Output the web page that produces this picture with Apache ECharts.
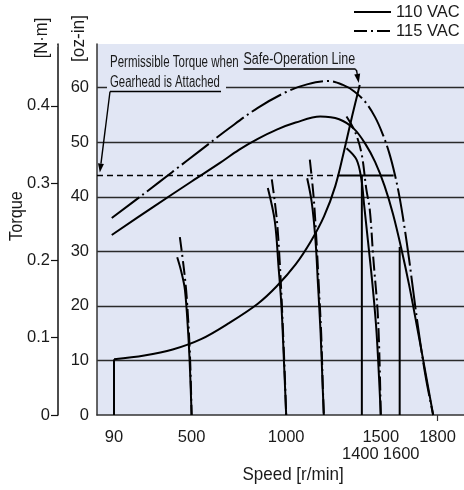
<!DOCTYPE html>
<html><head><meta charset="utf-8">
<script src="https://cdn.jsdelivr.net/npm/echarts@6/dist/echarts.min.js"></script>
<style>html,body{margin:0;padding:0;background:#fff}#c{width:464px;height:490px}</style>
</head><body><div id="c"></div>
<script>
// ---------- data ----------
const speedTicks = [90, 500, 1000, 1500, 1800];
const speedTicks2 = [1400, 1600];
const ozTicks = [0, 10, 20, 30, 40, 50, 60];
const nmTicks = [0, 0.1, 0.2, 0.3, 0.4];
const OZ_PER_NM = 141.612;

// maximum torque curves [speed r/min, torque oz-in]
const max110 = [[78,33.0],[300,38.2],[500,42.8],[650,46.2],[750,48.6],[850,50.6],[950,52.3],[1050,53.6],[1180,54.7],[1280,54.2],[1360,52.4],[1420,49.6],[1470,46.4],[1520,42.0],[1565,36.8],[1610,30.3],[1650,23.8],[1690,16.5],[1730,9.0],[1777,0]];
const max115 = [[78,36.1],[250,40.6],[400,44.6],[550,48.6],[700,52.6],[850,56.3],[1000,59.2],[1110,60.6],[1224,61.2],[1300,60.5],[1360,59.3],[1420,57.3],[1470,54.6],[1510,51.5],[1545,48.0],[1575,44.0],[1600,39.8],[1625,34.5],[1650,28.5],[1680,20.5],[1710,13.0],[1740,6.5],[1777,0]];

// speed-setting curves
const s500_110 = [[424,28.9],[446,26.2],[465,22.9],[482,15.0],[492,8.0],[500,0]];
const s500_115 = [[438,32.6],[460,26.6],[474,21.7],[491,11.3],[500,0]];
const s1000_110 = [[903,41.6],[940,35.5],[960,27.0],[975,20.0],[988,10.0],[1000,0]];
const s1000_115 = [[924,43.2],[950,36.0],[966,28.0],[980,18.0],[992,8.0],[1000,0]];
const s1200_110 = [[1111,43.4],[1135,39.0],[1155,32.0],[1168,24.0],[1182,15.0],[1192,6.0],[1199,0]];
const s1200_115 = [[1125,46.8],[1145,40.0],[1160,32.0],[1172,24.0],[1185,15.0],[1193,6.0],[1199,0]];
const s1500_110 = [[1319,48.9],[1372,46.8],[1398,43.1],[1412,38.5],[1432,32.0],[1456,24.0],[1478,15.0],[1500,0]];
const s1500_115 = [[1319,54.7],[1363,52.0],[1398,48.0],[1424,41.3],[1442,37.6],[1460,29.0],[1486,17.4],[1500,0]];

// safe-operation line
const safeOpBase = [[90,0],[90,10.2]];
const safeOp = [[90,10.2],[250,10.9],[400,12.0],[550,13.9],[700,16.9],[850,20.4],[950,23.6],[1050,27.6],[1130,31.8],[1200,36.4],[1260,42.0],[1310,49.0],[1350,55.0],[1389,60.5]];

// permissible torque when gearhead is attached
const gearTorque = 43.9;
const gearDashed = [[0,gearTorque],[1275,gearTorque]];
const gearSolid = [[1275,gearTorque],[1568,gearTorque]];
const limit1400 = [[1400,gearTorque],[1400,0]];
const limit1600 = [[1600,30.8],[1600,0]];

// ---------- chart ----------
const FONT = '"Liberation Sans", Arial, sans-serif';
const TXT = '#1a1a1a';
const PLOT_BG = '#e1e6f4';
const DASHDOT = [34,4,2,4];
const DASHDOT_S = [14,4,2,4];
const LBL = 16.5;
const OZ_MAX = 68;

function ser(name, data, type, extra) {
  return Object.assign({
    type: 'line', name: name, data: data, xAxisIndex: 0, yAxisIndex: 0,
    symbol: 'none', showSymbol: false, smooth: 0.35,
    lineStyle: { color: '#000', width: 2, type: type }, silent: true, z: 2
  }, extra || {});
}
const plain = function (v) { return String(v); };

const chart = echarts.init(document.getElementById('c'), null, { renderer: 'canvas' });
const option = {
  animation: false,
  backgroundColor: '#fff',
  textStyle: { fontFamily: FONT },
  grid: { left: 97, top: 44, right: 0, bottom: 75, show: true, backgroundColor: PLOT_BG, borderWidth: 0 },
  legend: {
    orient: 'vertical', left: 353, top: 3, padding: 0, itemWidth: 37, itemHeight: 14, itemGap: 1,
    selectedMode: false, data: ['110 VAC', '115 VAC'],
    itemStyle: { opacity: 0 },
    textStyle: { fontFamily: FONT, fontSize: 16.5, color: TXT, lineHeight: 18 }
  },
  xAxis: [{
    type: 'value', min: 0, max: 1940, interval: 500,
    axisLine: { show: true, onZero: false, lineStyle: { color: '#333', width: 1.5 } },
    axisTick: { show: true, customValues: [1800], length: 6, inside: false, lineStyle: { color: '#333', width: 1.2 } },
    axisLabel: { customValues: speedTicks, margin: 14, color: TXT, fontFamily: FONT, fontSize: LBL, formatter: plain },
    splitLine: { show: true, showMinLine: false, showMaxLine: false, lineStyle: { color: '#2a2a2a', width: 1.3 } }
  }, {
    type: 'value', min: 0, max: 1940, position: 'bottom',
    axisLine: { show: false, onZero: false }, axisTick: { show: false },
    axisLabel: { customValues: speedTicks2, margin: 31, color: TXT, fontFamily: FONT, fontSize: LBL, hideOverlap: false,
      formatter: function (v) { return v === speedTicks2[0] ? '{l|' + v + '}' : '{r|' + v + '}'; },
      rich: { l: { fontFamily: FONT, fontSize: LBL, color: TXT, padding: [0, 3, 0, 0] },
              r: { fontFamily: FONT, fontSize: LBL, color: TXT, padding: [0, 0, 0, 3] } } },
    splitLine: { show: false }
  }],
  yAxis: [{
    type: 'value', min: 0, max: OZ_MAX, interval: 10, position: 'left',
    axisLine: { show: true, onZero: false, lineStyle: { color: '#333', width: 1.5 } },
    axisTick: { show: false },
    axisLabel: { customValues: ozTicks, margin: 8, color: TXT, fontFamily: FONT, fontSize: LBL },
    splitLine: { show: true, showMinLine: false, showMaxLine: false, lineStyle: { color: '#2a2a2a', width: 1.3 } }
  }, {
    type: 'value', min: 0, max: OZ_MAX / OZ_PER_NM, interval: 0.1, position: 'left', offset: 39,
    axisLine: { show: true, onZero: false, lineStyle: { color: '#111', width: 1.5 } },
    axisTick: { show: true, length: 7, inside: false, lineStyle: { color: '#111', width: 1.2 } },
    axisLabel: { customValues: nmTicks, margin: 8, color: TXT, fontFamily: FONT, fontSize: LBL,
      formatter: function (v) { return v === 0 ? '0' : String(+v.toFixed(1)); } },
    splitLine: { show: false }
  }],
  series: [
    ser('110 VAC', [], 'solid'),
    ser('115 VAC', [], [13,4,2,4]),
    ser('110 VAC', max110, 'solid'),
    ser('115 VAC', max115, DASHDOT),
    ser('110 VAC', s500_110, 'solid'),
    ser('115 VAC', s500_115, DASHDOT_S),
    ser('110 VAC', s1000_110, 'solid'),
    ser('115 VAC', s1000_115, DASHDOT_S),
    ser('110 VAC', s1200_110, 'solid'),
    ser('115 VAC', s1200_115, DASHDOT_S),
    ser('110 VAC', s1500_110, 'solid'),
    ser('115 VAC', s1500_115, DASHDOT_S),
    ser('Safe-Operation Line', safeOpBase, 'solid', { smooth: false }),
    ser('Safe-Operation Line', safeOp, 'solid'),
    ser('Permissible', gearDashed, [6,4], { smooth: false, lineStyle: { color: '#000', width: 1.6, type: [6,4] } }),
    ser('Permissible', gearSolid, 'solid', { smooth: false, lineStyle: { color: '#000', width: 1.8 } }),
    ser('Limit', limit1400, 'solid', { smooth: false }),
    ser('Limit', limit1600, 'solid', { smooth: false })
  ]
};
chart.setOption(option);

// ---------- annotations ----------
function px(p) { return chart.convertToPixel({ xAxisIndex: 0, yAxisIndex: 0 }, p); }
function arrow(x1, y1, x2, y2) {
  const dx = x2 - x1, dy = y2 - y1, L = Math.sqrt(dx * dx + dy * dy);
  const ux = dx / L, uy = dy / L, hl = 9, hw = 3;
  const bx = x2 - ux * hl, by = y2 - uy * hl;
  return [
    { type: 'line', z: 3, shape: { x1: x1, y1: y1, x2: bx, y2: by }, style: { stroke: '#000', lineWidth: 1.4 } },
    { type: 'polygon', z: 3, shape: { points: [[x2, y2], [bx - uy * hw, by + ux * hw], [bx + uy * hw, by - ux * hw]] }, style: { fill: '#000' } }
  ];
}
function txt(text, x, y, size, sx, rot, align) {
  return { type: 'text', z: 3, x: x, y: y, rotation: rot || 0, scaleX: sx, scaleY: 1,
    style: { text: text, align: align || 'left', verticalAlign: 'middle', fontFamily: FONT, fontSize: size, fill: TXT } };
}
const tipGear = px([15, gearTorque]);
const tipSafe = px(safeOp[safeOp.length - 1]);
const topNm = chart.convertToPixel({ yAxisIndex: 1 }, OZ_MAX / OZ_PER_NM);
const g = [
  // hides the extent-end tick at the top of the N·m axis
  { type: 'rect', z: 5, shape: { x: 48, y: topNm - 3, width: 9.2, height: 6 }, style: { fill: '#fff' } },
  { type: 'rect', z: 1, shape: { x: 107, y: 49, width: 135, height: 23 }, style: { fill: PLOT_BG } },
  { type: 'rect', z: 1, shape: { x: 107, y: 72, width: 119, height: 24 }, style: { fill: PLOT_BG } },
  { type: 'rect', z: 1, shape: { x: 242, y: 47, width: 118, height: 27 }, style: { fill: PLOT_BG } },
  txt('Permissible Torque when', 110, 63, 16, 0.72),
  txt('Gearhead is Attached', 110, 82.5, 16, 0.71),
  { type: 'line', z: 3, shape: { x1: 110, y1: 91.5, x2: 221, y2: 91.5 }, style: { stroke: '#000', lineWidth: 1.3 } },
  txt('Safe-Operation Line', 243.5, 60, 16, 0.78),
  { type: 'line', z: 3, shape: { x1: 243.5, y1: 69, x2: 355.5, y2: 69 }, style: { stroke: '#000', lineWidth: 1.3 } },
  // axis titles
  txt('Torque', 17, 216, 18.5, 0.88, Math.PI / 2, 'center'),
  txt('[N·m]', 42, 38, 18.5, 0.9, Math.PI / 2, 'center'),
  txt('[oz-in]', 78.5, 38.5, 18.5, 0.93, Math.PI / 2, 'center'),
  txt('Speed [r/min]', 293, 474.5, 18.5, 0.92, 0, 'center')
].concat(arrow(110, 91.5, tipGear[0], tipGear[1] - 3))
 .concat([{ type: 'line', z: 3, shape: { x1: 355.5, y1: 69, x2: 356.5, y2: 71 }, style: { stroke: '#000', lineWidth: 1.3 } }])
 .concat(arrow(356.5, 70, tipSafe[0] - 1, tipSafe[1] - 2));
chart.setOption({ graphic: { elements: g } });
</script></body></html>
